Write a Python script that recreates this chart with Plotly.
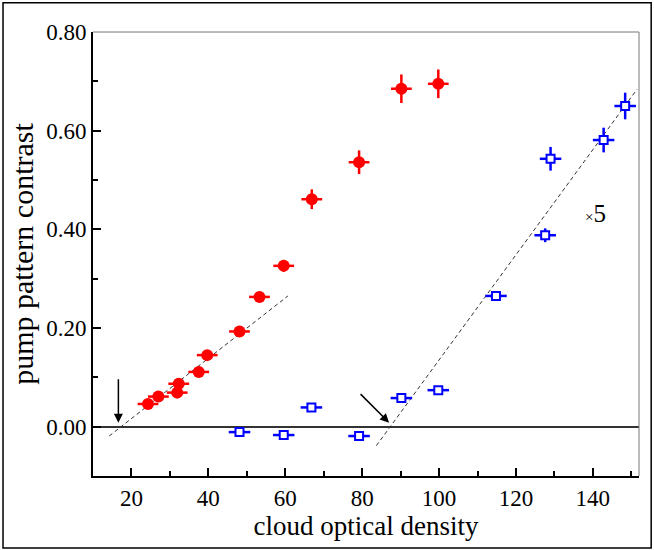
import plotly.graph_objects as go

# --- data ---
red_x = [24.3, 27.0, 32.3, 31.9, 37.5, 39.7, 48.1, 53.3, 59.6, 66.9, 79.2, 90.2, 99.8]
red_y = [0.046, 0.061, 0.087, 0.069, 0.111, 0.145, 0.193, 0.263, 0.326, 0.461, 0.536, 0.685, 0.695]
red_xerr = [2.7] * 13
red_yerr = [0.008, 0.008, 0.008, 0.008, 0.008, 0.008, 0.010, 0.010, 0.012, 0.020, 0.024, 0.029, 0.029]

blue_x = [48.1, 59.6, 66.8, 79.2, 90.2, 99.8, 114.8, 127.6, 129.0, 142.8, 148.4]
blue_y = [-0.011, -0.017, 0.039, -0.019, 0.058, 0.074, 0.265, 0.388, 0.543, 0.581, 0.650]
blue_xerr = [2.8] * 11
blue_yerr = [0.006, 0.006, 0.006, 0.006, 0.007, 0.008, 0.010, 0.014, 0.024, 0.025, 0.027]

fit1_x = [14.2, 60.7]
fit1_y = [-0.019, 0.265]
fit2_x = [83.7, 151.5]
fit2_y = [-0.0385, 0.684]

x_ticks = [20, 40, 60, 80, 100, 120, 140]
y_ticks = [0.0, 0.2, 0.4, 0.6, 0.8]

FONT = "Liberation Serif"

fig = go.Figure()

for fx, fy in [(fit1_x, fit1_y), (fit2_x, fit2_y)]:
    fig.add_trace(go.Scatter(x=fx, y=fy, mode="lines",
                             line=dict(color="#333333", width=1, dash="4px,3px"),
                             showlegend=False, hoverinfo="skip"))

fig.add_trace(go.Scatter(
    x=red_x, y=red_y, mode="markers",
    marker=dict(symbol="circle", size=12, color="#ff0000", line=dict(width=0)),
    error_x=dict(type="data", array=red_xerr, color="#ff0000", thickness=2.5, width=0),
    error_y=dict(type="data", array=red_yerr, color="#ff0000", thickness=2.5, width=0),
    showlegend=False))

fig.add_trace(go.Scatter(
    x=blue_x, y=blue_y, mode="markers",
    marker=dict(symbol="square", size=8, color="white", line=dict(width=2, color="#0000ff")),
    error_x=dict(type="data", array=blue_xerr, color="#0000ff", thickness=2.5, width=0),
    error_y=dict(type="data", array=blue_yerr, color="#0000ff", thickness=2.5, width=0),
    showlegend=False))

# arrows
fig.add_annotation(x=16.6, y=0.008, ax=16.6, ay=0.099, xref="x", yref="y", axref="x", ayref="y",
                   showarrow=True, arrowhead=2, arrowsize=1.2, arrowwidth=1.5, arrowcolor="black", text="")
fig.add_annotation(x=87.0, y=0.008, ax=79.2, ay=0.069, xref="x", yref="y", axref="x", ayref="y",
                   showarrow=True, arrowhead=2, arrowsize=1.2, arrowwidth=1.5, arrowcolor="black", text="")
fig.add_annotation(x=140.8, y=0.432, xref="x", yref="y", showarrow=False,
                   text="<span style='font-size:15px'>×</span>5",
                   font=dict(family=FONT, size=25, color="black"))

# top/right thin grey frame
fig.add_shape(type="line", xref="paper", yref="paper", x0=0, x1=1, y0=1, y1=1,
              line=dict(color="#777777", width=1))
fig.add_shape(type="line", xref="paper", yref="paper", x0=1, x1=1, y0=0, y1=1,
              line=dict(color="#777777", width=1))
# outer border
fig.add_shape(type="rect", xref="paper", yref="paper", x0=-0.1648, x1=1.0223, y0=-0.1623, y1=1.066,
              line=dict(color="black", width=1.5))

fig.update_xaxes(range=[10, 152], tickvals=x_ticks, ticks="inside", ticklen=8, tickwidth=2,
                 tickcolor="black", showline=True, linecolor="black", linewidth=2,
                 showgrid=False, zeroline=False,
                 minor=dict(ticks="inside", ticklen=5, tickwidth=2, dtick=10, tick0=0, tickcolor="black"),
                 tickfont=dict(family=FONT, size=23, color="black"),
                 title=dict(text="cloud optical density", font=dict(family=FONT, size=27, color="black"),
                            standoff=2))
fig.update_yaxes(range=[-0.1, 0.8], tickvals=y_ticks, tickformat=".2f", ticks="inside", ticklen=8,
                 tickwidth=2, tickcolor="black", showline=True, linecolor="black", linewidth=2,
                 showgrid=False, zeroline=True, zerolinecolor="#333333", zerolinewidth=1.5,
                 minor=dict(ticks="inside", ticklen=5, tickwidth=2, dtick=0.1, tick0=0, tickcolor="black"),
                 tickfont=dict(family=FONT, size=23, color="black"),
                 title=dict(text="pump pattern contrast", font=dict(family=FONT, size=30, color="black"),
                            standoff=4))

fig.update_layout(width=654, height=550, margin=dict(l=93, r=15, t=32, b=74),
                  plot_bgcolor="white", paper_bgcolor="white")

fig.write_html("out.html", config={"displayModeBar": False},
               post_script="document.body.style.margin='0px';")
